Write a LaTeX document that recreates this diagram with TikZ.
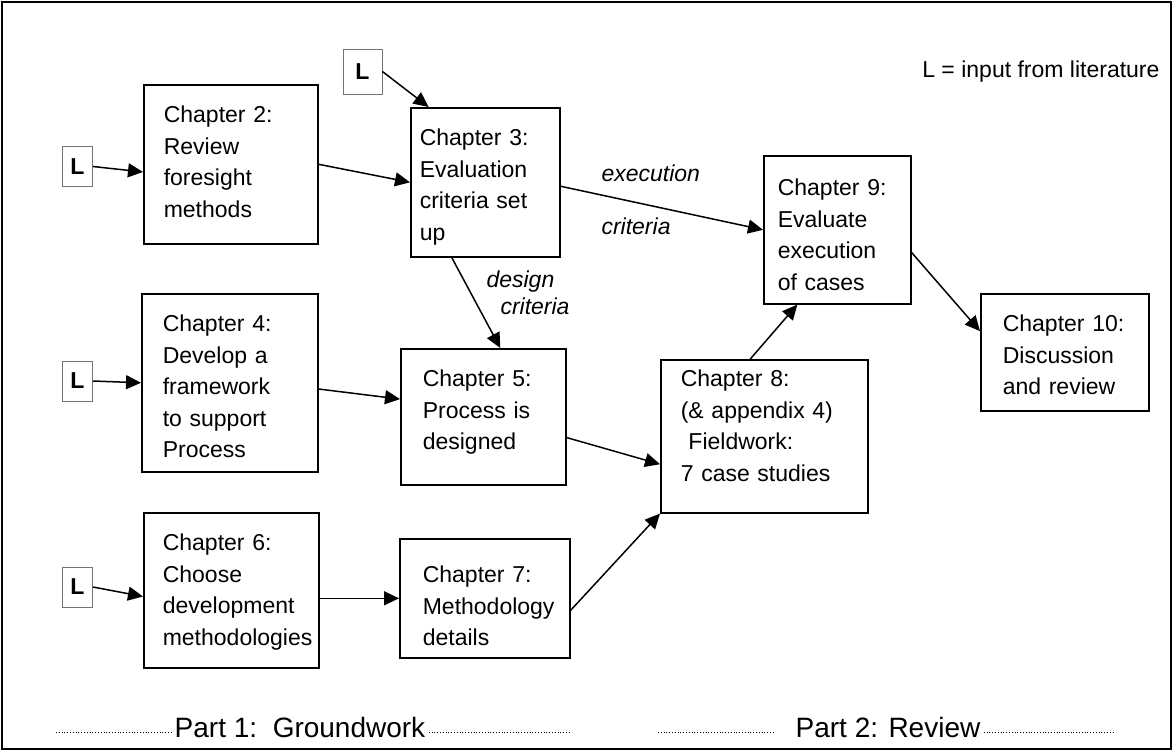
\documentclass[tikz,border=0pt]{standalone}
\usepackage{fontspec}
\setmainfont{Liberation Sans}
\usetikzlibrary{arrows.meta}
\begin{document}
\begin{tikzpicture}[x=1pt,y=-1pt,
    every node/.style={font=\fontsize{23}{31.5}\selectfont},
    chap/.style={draw=black,line width=1.6pt,anchor=north west,align=left,
      inner ysep=0pt,text height=38pt},
    lit/.style={draw=black!55,line width=0.8pt,inner sep=0pt,
      font=\fontsize{23}{28}\selectfont\bfseries},
    flow/.style={line width=1.5pt,-{Triangle[length=15pt,width=14pt]}},
    lbl/.style={font=\fontsize{23}{28}\selectfont\itshape,anchor=base west},
    part/.style={font=\fontsize{28}{32}\selectfont,anchor=base},
    dots/.style={dotted,line width=0.8pt}]
  \useasboundingbox (0,0) rectangle (1173,751);
  \draw[line width=1.5pt] (2,2) rectangle (1171,749);
  \node[chap,inner xsep=20pt,text width=134pt,text depth=121pt] (c2) at (143,84)
    {Chapter 2:\\Review\\foresight\\methods};
  \node[chap,inner xsep=9pt,text width=131pt,text depth=111pt] (c3) at (410,107)
    {Chapter 3:\\Evaluation\\criteria set\\up};
  \node[chap,inner xsep=21pt,text width=134pt,text depth=140pt] (c4) at (141,293)
    {Chapter 4:\\Develop a\\framework\\to support\\Process};
  \node[chap,inner xsep=22pt,text width=121pt,text depth=98pt] (c5) at (400,348)
    {Chapter 5:\\Process is\\designed};
  \node[chap,inner xsep=19pt,text width=137pt,text depth=117pt] (c6) at (143,512)
    {Chapter 6:\\Choose\\development\\methodologies};
  \node[chap,inner xsep=23pt,text width=124pt,text height=44pt,text depth=75pt] (c7) at (399,538)
    {Chapter 7:\\Methodology\\details};
  \node[chap,inner xsep=20pt,text width=167pt,text height=27pt,text depth=126pt] (c8) at (660,359)
    {Chapter 8:\\(\& appendix 4)\\\ Fieldwork:\\7 case studies};
  \node[chap,inner xsep=14pt,text width=119pt,text height=40pt,text depth=108pt] (c9) at (763,155)
    {Chapter 9:\\Evaluate\\execution\\of cases};
  \node[chap,inner xsep=22pt,text width=124pt,text depth=79pt] (c10) at (980,293)
    {Chapter 10:\\Discussion\\and review};
  \node[lit,minimum width=39pt,minimum height=45pt] (lt) at (362.5,71.5) {L};
  \node[lit,minimum width=30pt,minimum height=40pt] (l1) at (77.5,166.5) {L};
  \node[lit,minimum width=30pt,minimum height=40pt] (l2) at (77.5,381) {L};
  \node[lit,minimum width=30pt,minimum height=40pt] (l3) at (77.5,587) {L};
  \node[anchor=base east] (key) at (1163,78) {L = input from literature};
  \node[lbl] (ex1) at (598,182) {execution};
  \node[lbl] (ex2) at (598,235) {criteria};
  \node[lbl] (de1) at (483,288) {design};
  \node[lbl] (de2) at (497,315) {criteria};
  \draw[flow] (lt.east) -- (c3.127);
  \draw[flow] (l1.east) -- (c2.185);
  \draw[flow] (l2.east) -- (c4.west);
  \draw[flow] (l3.east) -- (c6.184);
  \draw[flow] (c2.east) -- (c3.west);
  \draw[flow] (c3.357) -- (c9.west);
  \draw[flow] (c3.246) -- ([xshift=17pt]c5.north);
  \draw[flow] (c4.356) -- (c5.168);
  \draw[flow] (c5.346) -- (c8.195);
  \draw[flow] (c6.east |- c7.west) -- (c7.west);
  \draw[flow] (c7.352) -- (c8.south west);
  \draw[flow] ([xshift=-14pt]c8.north) -- ([xshift=-40pt]c9.south);
  \draw[flow] (c9.343) -- (c10.166);
  \node[part] (p1) at (300,737) {Part 1:\ \ Groundwork};
  \node[part] (p2) at (888,737) {Part 2: Review};
  \coordinate (d1) at (56,732);
  \coordinate (d2) at (570,732);
  \coordinate (d3) at (658,732);
  \coordinate (d4) at (1115,732);
  \draw[dots] (d1) -- (d1 -| p1.west);
  \draw[dots] (d2 -| p1.east) -- (d2);
  \draw[dots] (d3) -- ([xshift=-18pt]d3 -| p2.west);
  \draw[dots] (d4 -| p2.east) -- (d4);
\end{tikzpicture}
\end{document}
